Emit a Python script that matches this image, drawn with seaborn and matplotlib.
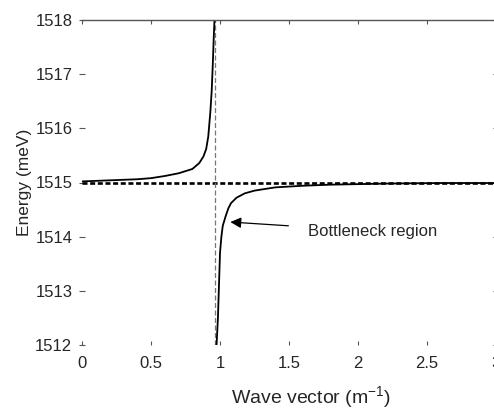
import matplotlib
matplotlib.use("Agg")
import matplotlib.pyplot as plt
import seaborn as sns

# values
upper_k = [0.0, 0.2, 0.4, 0.5, 0.6, 0.7, 0.75, 0.8, 0.85, 0.88, 0.9, 0.915,
           0.93, 0.94, 0.948, 0.955, 0.96]
upper_e = [1515.02, 1515.04, 1515.06, 1515.08, 1515.12, 1515.17, 1515.21,
           1515.25, 1515.36, 1515.48, 1515.62, 1515.85, 1516.3, 1516.7,
           1517.2, 1517.7, 1518.0]

lower_k = [0.975, 0.985, 0.99, 0.995, 1.0, 1.01, 1.02, 1.04, 1.06, 1.08,
           1.12, 1.18, 1.25, 1.4, 1.6, 1.8, 2.2, 2.6, 3.0]
lower_e = [1512.0, 1512.5, 1512.9, 1513.3, 1513.7, 1514.0, 1514.2, 1514.37,
           1514.52, 1514.62, 1514.72, 1514.8, 1514.85, 1514.91, 1514.94,
           1514.96, 1514.98, 1514.99, 1514.99]

exciton_e = 1515.0
photon_k = 0.965

x_ticks = [0, 0.5, 1, 1.5, 2, 2.5, 3]
x_labels = ["0", "0.5", "1", "1.5", "2", "2.5", "3"]
y_ticks = [1512, 1513, 1514, 1515, 1516, 1517, 1518]

sns.set_style("ticks")
plt.rcParams['font.family'] = ['Liberation Sans', 'DejaVu Sans']

fig = plt.figure(figsize=(4.94, 4.09), dpi=100)
ax = fig.add_axes([82 / 494, 64 / 409, 414 / 494, 325 / 409])

# asymptotes
ax.axhline(exciton_e, color="black", lw=1.9, ls=(0, (1.9, 1.0)), zorder=1)
ax.axvline(photon_k, color="#777777", lw=0.9, ls=(0, (4, 2)), zorder=1)

# polariton branches
sns.lineplot(x=upper_k, y=upper_e, ax=ax, color="black", lw=1.3,
             estimator=None, sort=False)
sns.lineplot(x=lower_k, y=lower_e, ax=ax, color="black", lw=1.3,
             estimator=None, sort=False)

ax.annotate("Bottleneck region", xy=(1.075, 1514.27), xytext=(1.64, 1514.1),
            fontsize=12, va="center", ha="left",
            arrowprops=dict(arrowstyle="-|>", color="black", lw=0.9,
                            mutation_scale=16, shrinkA=12, shrinkB=0))

ax.set_xlim(0, 3)
ax.set_ylim(1512, 1518)
ax.set_xticks(x_ticks)
ax.set_xticklabels(x_labels)
ax.set_yticks(y_ticks)

ax.spines["left"].set_visible(False)
ax.spines["bottom"].set_visible(False)
for side in ["top", "right"]:
    ax.spines[side].set_visible(True)
    ax.spines[side].set_color("#555555")
    ax.spines[side].set_linewidth(1.0)

ax.tick_params(axis="x", direction="in", length=3, width=0.8, top=True,
               labelsize=12, pad=8, color="#555555")
ax.tick_params(axis="y", direction="inout", length=4, width=0.8, right=True,
               labelsize=12, pad=5, color="#555555")

ax.set_xlabel("Wave vector (m$^{\\mathregular{-1}}$)", fontsize=14)
ax.xaxis.set_label_coords(0.553, -0.122)
ax.set_ylabel("Energy (meV)", fontsize=12.5, labelpad=2)

fig.savefig("out.png", dpi=100)
